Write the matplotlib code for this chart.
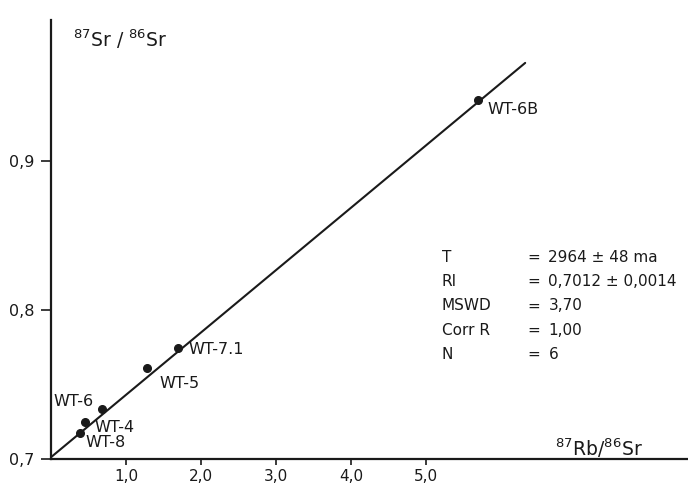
import numpy as np
import matplotlib.pyplot as plt

# whole-rock samples
samples = ['WT-6B', 'WT-7.1', 'WT-5', 'WT-6', 'WT-4', 'WT-8']
rb_sr = [5.69, 1.69, 1.28, 0.68, 0.45, 0.39]
sr_sr = [0.9409, 0.7745, 0.7610, 0.7336, 0.7248, 0.7174]

# isochron end points
line_x = [0.0, 6.32]
line_y = [0.7012, 0.9658]

x_ticks = [1.0, 2.0, 3.0, 4.0, 5.0]
x_tick_labels = ['1,0', '2,0', '3,0', '4,0', '5,0']
y_ticks = [0.7, 0.8, 0.9]
y_tick_labels = ['0,7', '0,8', '0,9']

stat_names = ['T', 'RI', 'MSWD', 'Corr R', 'N']
stat_values = ['2964 ± 48 ma', '0,7012 ± 0,0014', '3,70', '1,00', '6']

# label offsets in points (dx, dy) from each sample
label_offsets = {
    'WT-6B': (7, -7),
    'WT-7.1': (8, -1),
    'WT-5': (9, -11),
    'WT-6': (-35, 5),
    'WT-4': (7, -4),
    'WT-8': (4, -7),
}

ink = '#1a1a1a'
plt.rcParams['font.family'] = ['DejaVu Sans']

fig = plt.figure(figsize=(6.88, 4.88), dpi=100)
ax = fig.add_axes([51 / 688, 29 / 488, 637 / 688, 439 / 488])

ax.plot(line_x, line_y, color=ink, linewidth=1.5, solid_capstyle='round')
ax.plot(rb_sr, sr_sr, 'o', color=ink, markersize=5.5)

for name, x, y in zip(samples, rb_sr, sr_sr):
    dx, dy = label_offsets[name]
    ax.annotate(name, (x, y), xytext=(dx, dy), textcoords='offset points',
                fontsize=11.5, color=ink, va='center', ha='left')

ax.set_xlim(0, 8.49)
ax.set_ylim(0.7, 0.9946)

ax.set_xticks(x_ticks)
ax.set_xticklabels(x_tick_labels)
ax.set_yticks(y_ticks)
ax.set_yticklabels(y_tick_labels)
ax.tick_params(axis='x', direction='out', length=4, width=1.2, pad=3,
               labelsize=11, colors=ink)
ax.tick_params(axis='y', direction='out', length=7, width=1.2, pad=5,
               labelsize=11.5, colors=ink)

for side in ['top', 'right']:
    ax.spines[side].set_visible(False)
for side in ['left', 'bottom']:
    ax.spines[side].set_linewidth(1.6)
    ax.spines[side].set_color(ink)

# axis titles
ax.text(0.29, 0.9815, r'$^{87}$Sr / $^{86}$Sr', fontsize=13.5, color=ink,
        ha='left', va='center')
ax.text(6.72, 0.7075, r'$^{87}$Rb/$^{86}$Sr', fontsize=13.5, color=ink,
        ha='left', va='center')

# statistics block
for i, (k, v) in enumerate(zip(stat_names, stat_values)):
    yy = 0.8353 - i * 0.0163
    ax.text(5.21, yy, k, fontsize=11, color=ink, ha='left', va='center')
    ax.text(6.35, yy, '=', fontsize=11, color=ink, ha='left', va='center')
    ax.text(6.63, yy, v, fontsize=11, color=ink, ha='left', va='center')

fig.savefig('out.png', dpi=100)
